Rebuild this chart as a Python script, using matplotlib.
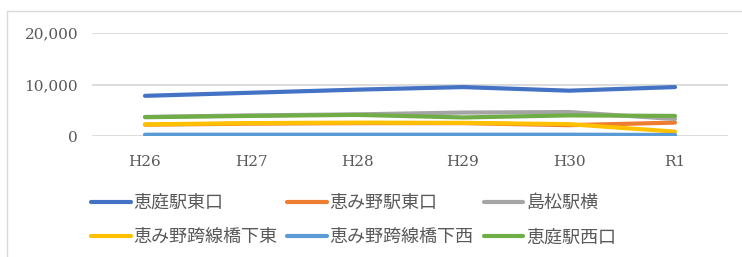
import matplotlib
matplotlib.use("Agg")
import matplotlib.pyplot as plt
from matplotlib.patches import Rectangle

categories = ["H26", "H27", "H28", "H29", "H30", "R1"]
series_names = ["恵庭駅東口", "恵み野駅東口", "島松駅横", "恵み野跨線橋下東", "恵み野跨線橋下西", "恵庭駅西口"]
eniwa_east = [7800, 8400, 9000, 9500, 8800, 9500]
megumino_east = [2200, 2400, 2500, 2500, 2100, 2600]
shimamatsu = [3700, 4000, 4200, 4550, 4650, 3300]
megumino_bridge_east = [2250, 2500, 2600, 2550, 2300, 850]
megumino_bridge_west = [250, 250, 250, 250, 250, 200]
eniwa_west = [3650, 3900, 4100, 3600, 4000, 3900]
yticks = [0, 10000, 20000]
ytick_labels = ["0", "10,000", "20,000"]

series = [eniwa_east, megumino_east, shimamatsu, megumino_bridge_east, megumino_bridge_west, eniwa_west]
colors = ["#4472C4", "#ED7D31", "#A5A5A5", "#FFC000", "#5B9BD5", "#70AD47"]

W, H = 742, 257
fig = plt.figure(figsize=(W / 100, H / 100), dpi=100)
fig.patch.set_facecolor("white")
ax = fig.add_axes([92 / W, 1 - 136 / H, (728 - 92) / W, (136 - 33) / H])

x = list(range(len(categories)))
lines = []
for vals, name, c in zip(series, series_names, colors):
    ln, = ax.plot(x, vals, color=c, lw=3.0, solid_capstyle="round", solid_joinstyle="round", label=name)
    lines.append(ln)

ax.set_xlim(-0.5, len(categories) - 0.5)
ax.set_ylim(0, 20000)
ax.set_yticks(yticks)
ax.set_yticklabels(ytick_labels, family="DejaVu Serif", fontsize=11, color="#595959")
ax.set_xticks(x)
ax.set_xticklabels(categories, family="DejaVu Serif", fontsize=11, color="#595959")
ax.tick_params(axis="x", length=0, pad=14)
ax.tick_params(axis="y", length=0, pad=10)
for s in ax.spines.values():
    s.set_visible(False)
ax.grid(axis="y", color="#D9D9D9", lw=1.3)
ax.set_axisbelow(True)

# chart border
fig.patches.append(Rectangle((7 / W, -0.1), 1.2, 1 - 11 / H + 0.1, transform=fig.transFigure,
                             fill=False, edgecolor="#D9D9D9", lw=1.0))

# row-major legend order
order = [0, 3, 1, 4, 2, 5]
leg = fig.legend([lines[i] for i in order], [series_names[i] for i in order],
                 loc="upper left", bbox_to_anchor=(91 / W, 1 - 194 / H), ncol=3, frameon=False,
                 prop={"family": ["Noto Sans CJK JP", "DejaVu Sans"], "size": 13},
                 handlelength=2.2, handletextpad=0.15, columnspacing=0.55, labelspacing=0.9,
                 borderpad=0, borderaxespad=0)
for t in leg.get_texts():
    t.set_color("#595959")

fig.savefig("out.png", dpi=100)
